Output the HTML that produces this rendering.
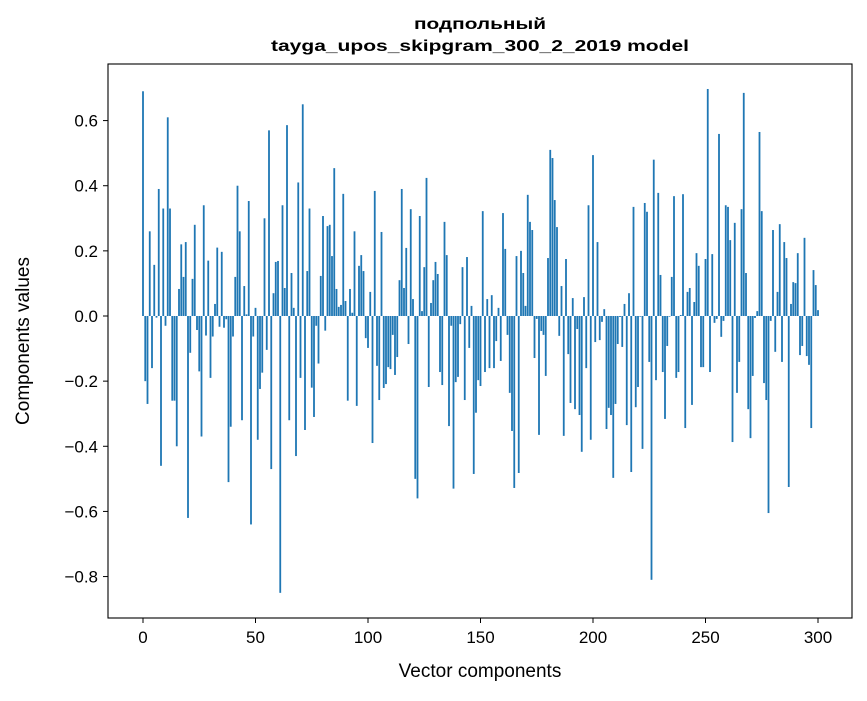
<!DOCTYPE html>
<html><head><meta charset="utf-8">
<style>
body{margin:0;background:#fff;}
svg text{font-family:"Liberation Sans","DejaVu Sans",sans-serif;fill:#000;}
</style></head>
<body>
<svg id="chart" width="867" height="696" viewBox="0 0 867 696" xmlns="http://www.w3.org/2000/svg">
<rect width="867" height="696" fill="#fff"/>
<text x="480" y="29" text-anchor="middle" font-size="16" font-weight="bold" textLength="132" lengthAdjust="spacingAndGlyphs">подпольный</text>
<text x="480" y="51" text-anchor="middle" font-size="16" font-weight="bold" textLength="418" lengthAdjust="spacingAndGlyphs">tayga_upos_skipgram_300_2_2019 model</text>
<g id="bars"></g>
<g id="axes"></g>
<rect x="108" y="64" width="744" height="554" fill="none" stroke="#000" stroke-width="1.1"/>
<text x="480" y="677" text-anchor="middle" font-size="19">Vector components</text>
<text transform="translate(29,341) rotate(-90)" text-anchor="middle" font-size="19">Components values</text>
</svg>
<script>
const values = [
0.69,-0.20,-0.27,0.26,-0.16,0.157,-0.005,0.39,-0.46,0.33,-0.03,0.61,0.33,-0.26,-0.26,-0.40,0.083,0.22,0.12,0.227,
-0.62,-0.113,0.114,0.28,-0.043,-0.17,-0.37,0.34,-0.06,0.17,-0.19,-0.063,0.037,0.21,-0.033,0.197,-0.036,-0.01,-0.51,-0.34,
-0.063,0.12,0.40,0.26,-0.32,0.092,0.005,0.353,-0.64,-0.063,
0.025,-0.38,-0.224,-0.174,0.30,-0.104,0.57,-0.47,0.07,0.166,0.169,-0.85,0.34,0.086,0.586,-0.32,0.132,0.025,-0.43,0.41,
-0.19,0.65,-0.35,0.138,0.33,-0.22,-0.31,-0.03,-0.146,0.123,0.307,-0.045,0.276,0.28,0.184,0.454,0.083,0.028,0.034,0.375,
0.046,-0.26,0.083,0.01,0.26,-0.276,0.154,0.187,0.138,-0.068,
-0.098,0.074,-0.39,0.384,-0.153,-0.258,0.258,-0.221,-0.209,-0.157,-0.163,-0.058,-0.181,-0.126,0.11,0.39,0.086,0.209,-0.086,0.328,
0.052,-0.50,-0.56,0.307,0.015,0.15,0.424,-0.218,0.04,0.11,0.166,0.129,-0.172,-0.212,0.289,0.187,-0.338,-0.03,-0.53,-0.203,
-0.187,-0.025,0.15,-0.258,0.181,-0.098,0.031,-0.485,-0.297,-0.197,
-0.215,0.322,-0.172,0.052,-0.16,0.064,-0.16,-0.077,0.025,-0.138,0.316,0.206,-0.058,-0.236,-0.353,-0.528,0.184,-0.482,0.2,0.132,
0.031,0.372,0.289,0.264,-0.129,-0.009,-0.365,-0.046,-0.058,-0.184,0.178,0.51,0.485,0.356,0.273,-0.061,0.092,-0.368,0.175,-0.117,
-0.267,0.055,-0.286,-0.04,-0.304,-0.417,0.058,-0.16,0.34,-0.38,
0.494,-0.08,0.227,-0.074,-0.018,0.021,-0.347,-0.282,-0.304,-0.497,-0.27,-0.086,-0.003,-0.095,0.037,-0.335,0.07,-0.479,0.335,-0.28,
-0.218,-0.002,-0.408,0.347,0.32,-0.141,-0.81,0.48,-0.197,0.378,0.126,-0.172,-0.316,-0.092,-0.002,0.12,0.368,-0.19,-0.172,0.003,
0.374,-0.344,0.074,0.086,-0.273,0.043,0.193,0.154,-0.157,-0.157,
0.175,0.697,-0.172,0.19,-0.021,-0.009,0.559,-0.064,-0.015,0.34,0.335,0.233,-0.387,0.286,-0.236,-0.141,0.328,0.685,0.132,-0.286,
-0.375,-0.184,-0.006,0.015,0.565,0.322,-0.206,-0.258,-0.605,-0.015,0.264,-0.11,0.074,0.282,-0.141,0.227,0.178,-0.525,0.037,0.104,
0.101,0.193,-0.12,-0.092,0.24,-0.123,-0.15,-0.344,0.141,0.095,0.018
];
const xTicks = [0,50,100,150,200,250,300];
const yTicks = [0.6,0.4,0.2,0.0,-0.2,-0.4,-0.6,-0.8];
const yTickLabels = ["0.6","0.4","0.2","0.0","\u22120.2","\u22120.4","\u22120.6","\u22120.8"];

const NS = "http://www.w3.org/2000/svg";
function xs(i){ return 143 + i * 2.25; }
function ys(v){ return 316 - v * 325.7; }

const bars = document.getElementById('bars');
values.forEach((v, i) => {
  const r = document.createElementNS(NS, 'rect');
  const y0 = ys(0), y1 = ys(v);
  r.setAttribute('x', xs(i) - 0.9);
  r.setAttribute('width', 1.8);
  r.setAttribute('y', Math.min(y0, y1));
  r.setAttribute('height', Math.max(Math.abs(y1 - y0), 0.01));
  r.setAttribute('fill', '#1f77b4');
  
  
  bars.appendChild(r);
});

const axes = document.getElementById('axes');
xTicks.forEach(t => {
  const l = document.createElementNS(NS, 'line');
  l.setAttribute('x1', xs(t)); l.setAttribute('x2', xs(t));
  l.setAttribute('y1', 618); l.setAttribute('y2', 623);
  l.setAttribute('stroke', '#000');
  
  
  axes.appendChild(l);
  const tx = document.createElementNS(NS, 'text');
  tx.setAttribute('x', xs(t)); tx.setAttribute('y', 643);
  tx.setAttribute('text-anchor', 'middle'); tx.setAttribute('font-size', '17');
  tx.textContent = String(t);
  
  
  axes.appendChild(tx);
});
yTicks.forEach((t, k) => {
  const l = document.createElementNS(NS, 'line');
  l.setAttribute('x1', 103); l.setAttribute('x2', 108);
  l.setAttribute('y1', ys(t)); l.setAttribute('y2', ys(t));
  l.setAttribute('stroke', '#000');
  
  
  axes.appendChild(l);
  const tx = document.createElementNS(NS, 'text');
  tx.setAttribute('x', 98); tx.setAttribute('y', ys(t) + 6);
  tx.setAttribute('text-anchor', 'end'); tx.setAttribute('font-size', '17');
  tx.textContent = yTickLabels[k];
  
  
  axes.appendChild(tx);
});
</script>
</body></html>
